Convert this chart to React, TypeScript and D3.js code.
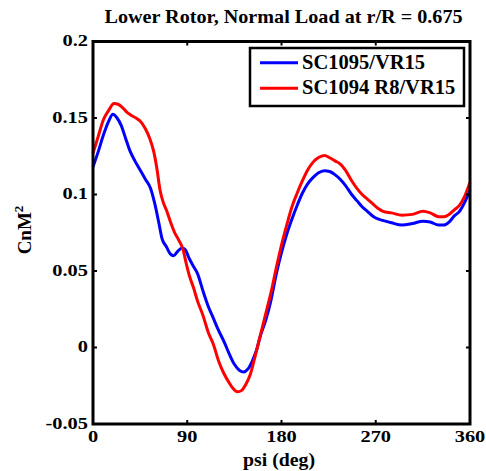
import React from "react";
import * as d3 from "d3";

const TITLE = "Lower Rotor, Normal Load at r/R = 0.675";
const X_LABEL = "psi (deg)";
const SERIES_NAMES = ["SC1095/VR15", "SC1094 R8/VR15"];
const SERIES_COLORS = ["#0000ff", "#ff0000"];

const X_TICKS = [0, 90, 180, 270, 360];
const Y_TICKS = [-0.05, 0, 0.05, 0.1, 0.15, 0.2];
const Y_TICK_LABELS = ["-0.05", "0", "0.05", "0.1", "0.15", "0.2"];

const BLUE_PSI = [0, 5, 10, 15, 19, 23, 27, 31, 35, 40, 45, 50, 55, 59, 63, 66, 70, 74, 77, 81, 85, 88, 92, 96, 100, 105, 110, 115, 120, 125, 130, 135, 140, 144, 148, 152, 156, 160, 165, 170, 175, 180, 185, 190, 195, 200, 205, 210, 215, 221, 226, 231, 236, 241, 247, 252, 257, 262, 267, 272, 277, 285, 295, 305, 315, 322, 330, 335, 340, 345, 350, 355, 360];
const BLUE_CN = [0.118, 0.128, 0.139, 0.148, 0.1525, 0.15, 0.145, 0.137, 0.129, 0.122, 0.116, 0.11, 0.104, 0.094, 0.081, 0.071, 0.066, 0.061, 0.06, 0.063, 0.065, 0.064, 0.058, 0.053, 0.048, 0.037, 0.027, 0.019, 0.011, 0.004, -0.004, -0.011, -0.015, -0.016, -0.014, -0.009, -0.002, 0.008, 0.018, 0.031, 0.048, 0.062, 0.074, 0.084, 0.093, 0.101, 0.107, 0.111, 0.114, 0.1155, 0.115, 0.113, 0.11, 0.106, 0.1, 0.096, 0.092, 0.089, 0.086, 0.084, 0.083, 0.0815, 0.08, 0.081, 0.0825, 0.082, 0.08, 0.08, 0.082, 0.086, 0.089, 0.095, 0.103];

const RED_PSI = [0, 5, 10, 15, 20, 24, 28, 32, 36, 41, 45, 50, 54, 58, 61, 64, 67, 70, 74, 78, 82, 86, 89, 92, 96, 100, 105, 110, 115, 120, 125, 130, 134, 138, 142, 146, 150, 154, 158, 162, 166, 170, 175, 180, 185, 190, 195, 200, 205, 210, 215, 221, 226, 231, 236, 241, 247, 252, 257, 262, 267, 272, 277, 285, 295, 305, 315, 322, 330, 335, 340, 345, 350, 355, 360];
const RED_CN = [0.127, 0.138, 0.149, 0.155, 0.1595, 0.159, 0.157, 0.154, 0.152, 0.15, 0.148, 0.143, 0.137, 0.128, 0.117, 0.103, 0.095, 0.09, 0.082, 0.075, 0.07, 0.064, 0.055, 0.047, 0.039, 0.03, 0.021, 0.01, 0.002, -0.009, -0.017, -0.023, -0.027, -0.029, -0.028, -0.024, -0.018, -0.008, 0.003, 0.014, 0.025, 0.036, 0.052, 0.067, 0.08, 0.092, 0.101, 0.109, 0.116, 0.121, 0.124, 0.1255, 0.124, 0.122, 0.12, 0.116, 0.109, 0.104, 0.1, 0.097, 0.094, 0.091, 0.089, 0.088, 0.0865, 0.087, 0.089, 0.088, 0.0855, 0.0855, 0.087, 0.09, 0.093, 0.099, 0.108];

const W = 486;
const H = 471;
const L = 93, R = 470, T = 41.5, B = 424;
const FONT = "'Liberation Serif', 'Times New Roman', serif";

export default function App() {
  const x = d3.scaleLinear().domain([0, 360]).range([L, R]);
  const y = d3.scaleLinear().domain([-0.05, 0.2]).range([B, T]);
  const line = d3
    .line<[number, number]>()
    .x((d) => x(d[0]))
    .y((d) => y(d[1]))
    .curve(d3.curveMonotoneX);
  const series = [
    BLUE_PSI.map((p, i) => [p, BLUE_CN[i]] as [number, number]),
    RED_PSI.map((p, i) => [p, RED_CN[i]] as [number, number]),
  ];

  return (
    <svg
      width={W}
      height={H}
      style={{ position: "absolute", left: 0, top: 0, background: "#fff" }}
      fontFamily={FONT}
      fontWeight="bold"
    >
      <rect x={0} y={0} width={W} height={H} fill="#fff" />
      <text
        transform={`translate(${(L + R) / 2 + 2},23) scale(1.12,1)`}
        textAnchor="middle"
        fontSize={18}
      >
        {TITLE}
      </text>
      {series.map((s, i) => (
        <path
          key={i}
          d={line(s) || ""}
          fill="none"
          stroke={SERIES_COLORS[i]}
          strokeWidth={3}
          strokeLinejoin="round"
        />
      ))}
      {X_TICKS.map((t) => (
        <g key={"xt" + t}>
          <line x1={x(t)} x2={x(t)} y1={B} y2={B - 4} stroke="#000" strokeWidth={2} />
          <line x1={x(t)} x2={x(t)} y1={T} y2={T + 4} stroke="#000" strokeWidth={2} />
          <text
            transform={`translate(${x(t)},442) scale(1.2,1)`}
            textAnchor="middle"
            fontSize={17}
          >
            {String(t)}
          </text>
        </g>
      ))}
      {Y_TICKS.map((t, i) => (
        <g key={"yt" + t}>
          <line x1={L} x2={L + 4} y1={y(t)} y2={y(t)} stroke="#000" strokeWidth={2} />
          <line x1={R} x2={R - 4} y1={y(t)} y2={y(t)} stroke="#000" strokeWidth={2} />
          <text
            transform={`translate(88,${y(t) + 4.5}) scale(1.2,1)`}
            textAnchor="end"
            fontSize={17}
          >
            {Y_TICK_LABELS[i]}
          </text>
        </g>
      ))}
      <rect x={L} y={T} width={R - L} height={B - T} fill="none" stroke="#000" strokeWidth={3} />
      <text
        transform={`translate(279,466) scale(1.1,1)`}
        textAnchor="middle"
        fontSize={18}
      >
        {X_LABEL}
      </text>
      <text transform="translate(31,230) rotate(-90)" textAnchor="middle" fontSize={19}>
        CnM
        <tspan fontSize={13} dy={-8}>
          2
        </tspan>
      </text>
      <rect x={250} y={48} width={214} height={58} fill="#fff" stroke="#000" strokeWidth={2.5} />
      {SERIES_NAMES.map((n, i) => (
        <g key={n}>
          <line
            x1={260}
            x2={298}
            y1={62.7 + i * 25.6}
            y2={62.7 + i * 25.6}
            stroke={SERIES_COLORS[i]}
            strokeWidth={3}
          />
          <text x={302} y={68.8 + i * 25.6} fontSize={20.5}>
            {n}
          </text>
        </g>
      ))}
    </svg>
  );
}
